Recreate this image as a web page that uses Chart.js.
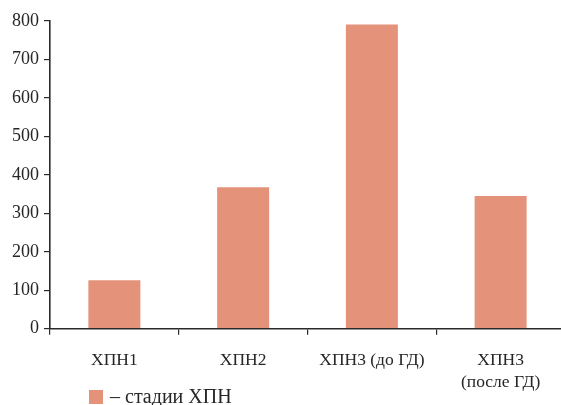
<!DOCTYPE html>
<html>
<head>
<meta charset="utf-8">
<script src="https://cdn.jsdelivr.net/npm/chart.js@4"></script>
<style>
  html, body { margin: 0; padding: 0; background: #fff; overflow: hidden; }
  #wrap { width: 565px; height: 405px; position: relative; }
</style>
</head>
<body>
<div id="wrap"><canvas id="c"></canvas></div>
<script>
// Categories (multi-line where the label wraps)
const categories = [
  'ХПН1',
  'ХПН2',
  'ХПН3 (до ГД)',
  ['ХПН3', '(после ГД)']
];
// Values per stage
const values = [126, 368, 791, 345];
// Legend text
const seriesLabel = '– стадии ХПН';

const barColor = '#e4937a';
const axisColor = '#2a2a2a';
const textColor = '#262626';
const serif = "'Liberation Serif', 'DejaVu Serif', serif";

// Draws the single legend entry below the category labels
const bottomLegend = {
  id: 'bottomLegend',
  afterDraw(chart) {
    const ctx = chart.ctx;
    const ds = chart.data.datasets[0];
    const x = 89, y = 390, box = 14;
    ctx.save();
    ctx.fillStyle = ds.backgroundColor;
    ctx.fillRect(x, y, box, box);
    ctx.fillStyle = textColor;
    ctx.font = "20px " + serif;
    ctx.textBaseline = 'middle';
    ctx.textAlign = 'left';
    ctx.fillText(ds.label, x + box + 7, y + box / 2 + 0.5);
    ctx.restore();
  }
};

new Chart(document.getElementById('c'), {
  type: 'bar',
  data: {
    labels: categories,
    datasets: [{
      label: seriesLabel,
      data: values,
      backgroundColor: barColor,
      borderWidth: 0,
      barPercentage: 0.404,
      categoryPercentage: 1.0
    }]
  },
  options: {
    responsive: true,
    maintainAspectRatio: false,
    animation: false,
    devicePixelRatio: 1,
    layout: { padding: { top: 21, right: 0, bottom: 0, left: 0 } },
    plugins: {
      legend: { display: false },
      tooltip: { enabled: false }
    },
    scales: {
      x: {
        grid: {
          display: true,
          offset: true,
          drawOnChartArea: false,
          drawTicks: true,
          tickLength: 6,
          color: axisColor,
          lineWidth: 1.2
        },
        border: { display: true, color: axisColor, width: 1.6 },
        ticks: {
          color: textColor,
          font: { family: serif, size: 17.5, lineHeight: 1.25 },
          padding: 15,
          maxRotation: 0,
          autoSkip: false
        },
        afterFit(scale) { scale.height = 76.3; }
      },
      y: {
        min: 0,
        max: 800,
        ticks: {
          stepSize: 100,
          color: textColor,
          font: { family: serif, size: 18 },
          padding: 5
        },
        grid: {
          display: true,
          drawOnChartArea: false,
          drawTicks: true,
          tickLength: 6,
          color: axisColor,
          lineWidth: 1.2
        },
        border: { display: true, color: axisColor, width: 1.6 },
        afterFit(scale) { scale.width = 50; }
      }
    }
  },
  plugins: [bottomLegend]
});
</script>
</body>
</html>
